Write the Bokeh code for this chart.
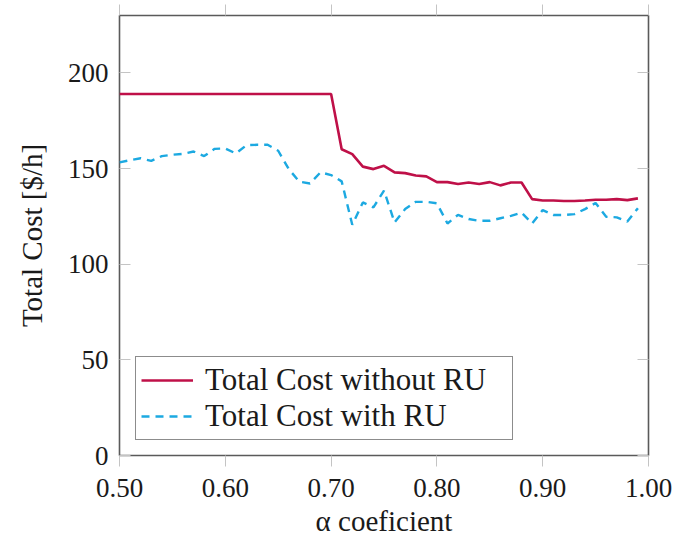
from bokeh.plotting import figure
from bokeh.models import (LinearAxis, Range1d, FixedTicker, Legend, LegendItem,
                          NumeralTickFormatter)
from bokeh.embed import file_html
from bokeh.resources import INLINE

alpha = [0.50, 0.51, 0.52, 0.53, 0.54, 0.55, 0.56, 0.57, 0.58, 0.59,
         0.60, 0.61, 0.62, 0.63, 0.64, 0.65, 0.66, 0.67, 0.68, 0.69,
         0.70, 0.71, 0.72, 0.73, 0.74, 0.75, 0.76, 0.77, 0.78, 0.79,
         0.80, 0.81, 0.82, 0.83, 0.84, 0.85, 0.86, 0.87, 0.88, 0.89,
         0.90, 0.91, 0.92, 0.93, 0.94, 0.95, 0.96, 0.97, 0.98, 0.99]

cost_without_ru = [189.0, 189.0, 189.0, 189.0, 189.0, 189.0, 189.0, 189.0, 189.0, 189.0,
                   189.0, 189.0, 189.0, 189.0, 189.0, 189.0, 189.0, 189.0, 189.0, 189.0,
                   189.0, 160.1, 157.5, 151.0, 149.7, 151.4, 148.0, 147.6, 146.4, 145.9,
                   142.9, 142.9, 141.9, 142.7, 141.9, 142.9, 141.2, 142.7, 142.7, 134.0,
                   133.3, 133.3, 133.0, 133.0, 133.3, 133.7, 133.7, 134.0, 133.5, 134.4]

cost_with_ru = [153.2, 154.4, 155.4, 154.0, 156.5, 157.2, 157.7, 158.9, 156.5, 160.3,
                160.5, 157.9, 162.2, 162.4, 162.4, 159.3, 149.7, 143.1, 142.2, 148.0,
                146.6, 143.3, 120.6, 132.3, 129.7, 138.5, 121.8, 128.8, 132.6, 132.6,
                131.8, 121.3, 125.8, 123.6, 122.7, 122.7, 124.0, 125.3, 127.0, 121.3,
                128.3, 125.7, 125.7, 126.2, 128.8, 132.0, 124.8, 124.5, 122.3, 129.3]

x_ticks = [0.5, 0.6, 0.7, 0.8, 0.9, 1.0]
y_ticks = [0, 50, 100, 150, 200]

FONT = "Liberation Serif"
TEXT = "#1a1a1a"
RED = "#BF1048"
BLUE = "#1CA9E1"
TICK = "#c4c4c4"

p = figure(width=679, height=544, output_backend="svg", toolbar_location=None,
           x_range=Range1d(0.5, 1.0), y_range=Range1d(0, 230),
           x_axis_label="α coeficient", y_axis_label="Total Cost [$/h]",
           min_border_left=119, min_border_right=31, min_border_top=15,
           min_border_bottom=89)

p.xgrid.visible = False
p.ygrid.visible = False
p.outline_line_color = "#5a5a5a"
p.outline_line_width = 1.6
p.background_fill_color = "white"
p.border_fill_color = "white"

r1 = p.line(alpha, cost_without_ru, line_color=RED, line_width=2.6)
r2 = p.line(alpha, cost_with_ru, line_color=BLUE, line_width=2.4, line_dash="8 6")

xa = p.xaxis[0]
xa.ticker = FixedTicker(ticks=x_ticks)
xa.formatter = NumeralTickFormatter(format="0.00")
xa.major_tick_out = 11
xa.major_tick_in = 0
xa.minor_tick_line_color = None
xa.major_tick_line_color = TICK
xa.axis_line_color = None
xa.major_label_standoff = 12
xa.axis_label_standoff = 5
xa.major_label_text_font = FONT
xa.major_label_text_font_size = "27px"
xa.major_label_text_color = TEXT
xa.axis_label_text_font = FONT
xa.axis_label_text_font_size = "29px"
xa.axis_label_text_font_style = "normal"
xa.axis_label_text_color = TEXT

ya = p.yaxis[0]
ya.ticker = FixedTicker(ticks=y_ticks)
ya.major_tick_out = 0
ya.major_tick_in = 11
ya.minor_tick_line_color = None
ya.major_tick_line_color = TICK
ya.axis_line_color = None
ya.major_label_standoff = 11
ya.axis_label_standoff = 17
ya.major_label_text_font = FONT
ya.major_label_text_font_size = "27px"
ya.major_label_text_color = TEXT
ya.axis_label_text_font = FONT
ya.axis_label_text_font_size = "29px"
ya.axis_label_text_font_style = "normal"
ya.axis_label_text_color = TEXT

# top and right axes: ticks only (drawn as minor ticks, so no labels exist)
top = LinearAxis(ticker=FixedTicker(ticks=[], minor_ticks=x_ticks),
                 major_tick_line_color=None, minor_tick_out=11, minor_tick_in=0,
                 minor_tick_line_color=TICK, axis_line_color=None)
p.add_layout(top, "above")

right = LinearAxis(ticker=FixedTicker(ticks=[], minor_ticks=y_ticks),
                   major_tick_line_color=None, minor_tick_out=0, minor_tick_in=11,
                   minor_tick_line_color=TICK, axis_line_color=None)
p.add_layout(right, "right")

legend = Legend(items=[LegendItem(label="Total Cost without RU", renderers=[r1]),
                       LegendItem(label="Total Cost with RU", renderers=[r2])],
                location=(16, 15), margin=0, padding=5, spacing=0,
                glyph_width=52, glyph_height=22, label_standoff=12, label_width=302,
                label_text_font=FONT, label_text_font_size="31px",
                label_text_color=TEXT, border_line_color="#1a1a1a",
                border_line_width=1.2, background_fill_color="white",
                background_fill_alpha=1.0)
p.add_layout(legend, "center")

open("out.html", "w").write(file_html(p, INLINE))
